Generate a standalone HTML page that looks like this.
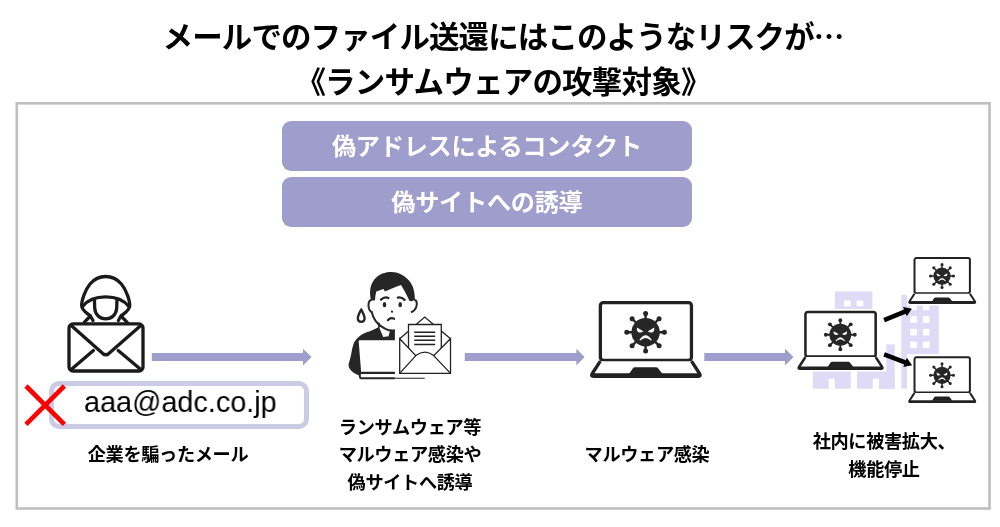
<!DOCTYPE html>
<html lang="ja"><head><meta charset="utf-8">
<style>
html,body{margin:0;padding:0;background:#fff;}
body{width:1000px;height:527px;position:relative;overflow:hidden;font-family:"Liberation Sans","Noto Sans CJK JP",sans-serif;color:#000;}
.abs{position:absolute;}
.t,.lbl,.pill,#addr{will-change:transform;}
.t{position:absolute;white-space:nowrap;font-weight:bold;text-align:center;}
.cjk{font-family:"Noto Sans CJK JP",sans-serif;}
#t1{left:0;width:1006px;top:12.5px;font-size:30.5px;line-height:44px;letter-spacing:-0.9px;}
#t2{left:0;width:1006px;top:59.5px;font-size:30.5px;line-height:44px;letter-spacing:-0.8px;}
#box{left:15.5px;top:102px;width:969.9px;height:402.4px;border:2.7px solid #bfbfbf;}
.pill{left:282px;width:409.8px;height:49.7px;border-radius:9px;background:#9e9dcc;color:#fff;font-weight:bold;font-size:24.2px;line-height:52px;text-align:center;letter-spacing:-0.3px;white-space:nowrap;}
.lbl{position:absolute;white-space:nowrap;font-weight:bold;text-align:center;font-size:18.2px;line-height:27.3px;letter-spacing:-0.35px;width:240px;margin-top:1.8px;}
#mail{left:49.2px;top:381.2px;width:249.6px;height:37.6px;border:5px solid #cbcbe5;border-radius:10px;background:#fff;}
#addr{left:83.5px;top:382.2px;font-size:29.5px;line-height:40px;white-space:nowrap;transform-origin:0 50%;transform:scaleX(0.977);letter-spacing:0;}
svg{position:absolute;left:0;top:0;}
</style></head><body>
<div class="t" id="t1">メールでのファイル送還にはこのようなリスクが<span class="cjk">…</span></div>
<div class="t" id="t2">《ランサムウェアの攻撃対象》</div>
<div class="abs pill" style="top:121px;">偽アドレスによるコンタクト</div>
<div class="abs pill" style="top:177px;">偽サイトへの誘導</div>
<div class="abs" id="mail"></div>
<div class="abs" id="addr">aaa@adc.co.jp</div>
<!--SVGSTART--><svg width="1000" height="527" viewBox="0 0 1000 527">
<defs>
  <g id="virus">
    <g stroke="#262626" stroke-width="2.4" stroke-linecap="round">
      <line x1="0" y1="-13" x2="0" y2="-18.6"/><line x1="0" y1="13" x2="0" y2="18.6"/>
      <line x1="-13" y1="0" x2="-18.6" y2="0"/><line x1="13" y1="0" x2="18.6" y2="0"/>
      <line x1="9.2" y1="9.2" x2="13.4" y2="13.4"/><line x1="-9.2" y1="9.2" x2="-13.4" y2="13.4"/>
      <line x1="9.2" y1="-9.2" x2="13.4" y2="-13.4"/><line x1="-9.2" y1="-9.2" x2="-13.4" y2="-13.4"/>
    </g>
    <g fill="#262626">
      <circle r="14.2"/>
      <circle cx="0" cy="-18.8" r="2.5"/><circle cx="0" cy="18.8" r="2.5"/>
      <circle cx="-18.8" cy="0" r="2.5"/><circle cx="18.8" cy="0" r="2.5"/>
      <circle cx="13.5" cy="13.5" r="2.5"/><circle cx="-13.5" cy="13.5" r="2.5"/>
      <circle cx="13.5" cy="-13.5" r="2.5"/><circle cx="-13.5" cy="-13.5" r="2.5"/>
    </g>
    <path d="M-8.7,-4.6 L-2.3,-1 Q-4.5,1.2 -7.6,-0.2 Q-9.2,-1.6 -8.7,-4.6Z" fill="#fff"/>
    <path d="M8.7,-4.6 L2.3,-1 Q4.5,1.2 7.6,-0.2 Q9.2,-1.6 8.7,-4.6Z" fill="#fff"/>
    <path d="M-6.3,7.8 Q0,-1.6 6.3,7.8 L5.3,8.4 Q0,3.2 -5.3,8.4Z" fill="#fff"/>
  </g>
  <g id="laptop">
    <rect x="10.55" y="1.65" width="91.1" height="57.7" rx="3" fill="#fff" stroke="#222" stroke-width="3.3"/>
    <path d="M10.5,60.2 L2.2,73 Q0.9,75.35 3.6,75.35 L108.6,75.35 Q111.3,75.35 110,73 L101.7,60.2" fill="#fff" stroke="#222" stroke-width="3.3" stroke-linejoin="round"/>
    <path d="M3,74 L109.2,74" stroke="#222" stroke-width="3.3"/>
    <path d="M45.2,66.3 L66.2,66.3 Q67.6,66.3 68.4,67.4 L72.8,73 L39.2,73 L43,67.4 Q43.8,66.3 45.2,66.3Z" fill="#222"/>
    <use href="#virus" x="55.8" y="31.2"/>
  </g>
</defs>

<rect x="16.8" y="103.3" width="972.7" height="405.2" fill="none" stroke="#bfbfbf" stroke-width="2.6"/>
<!-- purple arrows -->
<g fill="#9e9dcc">
  <path d="M151.8,353 H303 V348.7 L311.6,357 L303,365.4 V361 H151.8Z"/>
  <path d="M464.8,353 H576.4 V348.7 L584.6,357 L576.4,365.4 V361 H464.8Z"/>
  <path d="M704.3,353 H785 V348.7 L793.5,357 L785,365.4 V361 H704.3Z"/>
</g>

<!-- hacker + envelope -->
<g fill="none" stroke="#1a1a1a" stroke-width="3.3" stroke-linecap="round" stroke-linejoin="round">
  <path d="M84.2,322.3 L90.4,316 C87,313 82,310.8 81.7,306 C81.4,301 85,290 90,284 C94,279.3 99.5,276.5 105.7,276.5 C111.9,276.5 117.4,279.3 121.4,284 C126.4,290 130,301 129.7,306 C129.4,310.8 124.4,313 121,316 L127.2,322.3"/>
  <path d="M90.4,316 L93,320.5 M121,316 L118.4,320.5"/>
  <path d="M82.6,306.4 C88,299.4 96.5,296.8 105.7,296.8 C114.9,296.8 123.4,299.4 128.8,306.4"/>
  <path d="M94.4,298.8 L94.7,308 C95.1,314.8 99.8,318.8 105.7,318.8 C111.6,318.8 116.3,314.8 116.7,308 L117,298.8"/>
  <rect x="69" y="323.9" width="74" height="47.1" rx="4" fill="#fff"/>
  <path d="M71.2,325.6 L102.8,353.6 Q105.8,356 108.8,353.6 L140.8,325.6"/>
  <path d="M71.2,369.6 L93.4,350.6 M140.8,369.6 L118.2,350.6"/>
</g>

<!-- red X -->
<g stroke="#ff0000" stroke-width="4.6" fill="none">
  <path d="M26,386 L64.4,424.4 M64.4,386 L26,424.4"/>
</g>

<!-- person with laptop -->
<g>
  <!-- body -->
  <path d="M378.9,327 C374,329.8 370,331.3 366.6,332.3 C363.5,333.5 361,335 358.6,336.9 C356.3,339 355,341 353.9,342.9 C352.5,346.5 352,350 351.3,353.5 C350.5,357.5 349.5,361 348.6,364.1 C348.3,367 349.5,369 351.3,370.8 C353.5,372.8 356,374.3 359.3,375.4 L362,375.4 L362,341 L394.9,341 L394.9,327 Z" fill="#262626"/>
  <!-- neck+collar white -->
  <path d="M378.6,322 L379.2,327.6 L383.2,336.9 L388.5,336.2 L389.8,331.6 L392,329.5 L392,322Z" fill="#fff"/>
  <!-- laptop back -->
  <path d="M358.7,341.6 Q358.6,340.2 360,340.2 L394.9,340.2 L394.9,373 L361.2,373Z" fill="#fff"/>
  <path d="M361.2,373 L394.9,373" stroke="#262626" stroke-width="2.4" fill="none"/>
  <path d="M394.9,373 H361 Q359.8,373 359.8,375.6 Q359.8,378.2 361,378.2 H394.9" stroke="#262626" stroke-width="2" fill="#fff"/>
  <path d="M394.9,378.3 H424.7" stroke="#555" stroke-width="1.3" fill="none"/>
  <!-- face -->
  <path d="M371.6,311.5 C372.5,316 374,318.8 375.6,320.8 C377.5,323.3 379,324.8 380.9,326.1 C384,328.3 386,329.3 388.2,330 C390.5,330.6 393,330.6 395.5,330.2 L395.5,300 L372,300Z" fill="#fff"/>
  <path d="M371.6,311.5 C372.5,316 374,318.8 375.6,320.8 C377.5,323.3 379,324.8 380.9,326.1 C384,328.3 386,329.3 388.2,330 C390.5,330.6 393,330.6 395.5,330.2" fill="none" stroke="#262626" stroke-width="2"/>
  <path d="M378.6,322.5 L379.1,327.6" stroke="#262626" stroke-width="1.8" fill="none"/>
  <!-- hair -->
  <path d="M371,300.4 C370,296 369.8,292 370.3,288.9 C371,285 372.5,282 374.3,279.6 C376.5,277 379,275 382.3,273.6 C385.5,272.3 388.5,271.9 391.6,271.9 C395.5,271.9 399,273 402.2,275 C406,277.3 409,280 410.8,282.9 C412.8,286 413.7,289 414.1,291.6 C414.7,295 414.9,297.5 414.8,299.8 L411.8,301.2 L409.5,300.9 C408,297.5 406.3,294.5 404.8,291.6 C403.5,289 402.3,287 400.9,284.9 L395.5,286.9 L384.9,291.6 L383.6,288.9 L376.3,291.6 C375.5,294.5 375.1,297.5 375,300.4 Z" fill="#262626"/>
  <!-- ears -->
  <path d="M371.6,299.8 C367.4,300.6 367.4,310 372,312.2" fill="none" stroke="#262626" stroke-width="2"/>
  <path d="M414.3,299.8 C418,300.6 418,309.5 411,312.3" fill="none" stroke="#262626" stroke-width="2"/>
  <!-- eyes, brows, nose, mouth -->
  <ellipse cx="384.5" cy="304.7" rx="1.8" ry="2.6" fill="#262626"/>
  <ellipse cx="400.2" cy="304.7" rx="1.8" ry="2.6" fill="#262626"/>
  <path d="M381,299.6 Q384.5,296.2 388.4,298" fill="none" stroke="#262626" stroke-width="2.3" stroke-linecap="round"/>
  <path d="M397.8,297.6 Q401.5,296.8 404.6,299.9" fill="none" stroke="#262626" stroke-width="2.3" stroke-linecap="round"/>
  <circle cx="392" cy="311.7" r="1.1" fill="#262626"/>
  <path d="M387.8,320.2 Q390.6,317 394.6,318.9" fill="none" stroke="#262626" stroke-width="2.1" stroke-linecap="round"/>
  <!-- sweat -->
  <path d="M361.2,309.4 C363.2,313.5 364.6,315.8 364.6,318.2 C364.6,320.4 363.1,321.8 361.2,321.8 C359.3,321.8 357.8,320.4 357.8,318.2 C357.8,315.8 359.2,313.5 361.2,309.4Z" fill="#fff" stroke="#262626" stroke-width="2.3" stroke-linejoin="round"/>
</g>
<!-- open envelope -->
<rect x="395" y="316" width="58" height="60.5" fill="#fff"/>
<g fill="none" stroke="#222" stroke-width="1.3" stroke-linejoin="miter">
  <path d="M399.7,338.7 L424.7,317 L450.5,338.7"/>
  <path d="M408.5,356 L408.5,324.5 L441.3,324.5 L441.3,356" fill="#fff"/>
  <path d="M414.2,332.3 H435.2 M414.2,336.3 H435.2 M414.2,340.3 H435.2 M414.2,344.4 H435.2" stroke-width="1.5"/>
  <path d="M399.7,338.7 L415.8,355.6 Q424.9,348.6 433.7,355.6 L450.5,338.7 L450.5,373.4 L399.7,373.4Z" fill="#fff"/>
  <path d="M415.8,355.6 L399.7,373.4 M433.7,355.6 L450.5,373.4"/>
</g>

<!-- building -->
<g fill="#dfdbf6">
  <rect x="834.8" y="291.4" width="37.6" height="30"/>
  <rect x="812.9" y="371" width="37.8" height="17.7"/>
  <rect x="856.9" y="371" width="37.8" height="17.7"/>
  <rect x="878.9" y="344.4" width="15.8" height="44.3"/>
  <rect x="901.3" y="294.8" width="5.7" height="93.9"/>
  <rect x="906.5" y="296" width="32.3" height="58.3"/>
</g>
<g fill="#fff">
  <rect x="844" y="300.5" width="6.8" height="5.8"/><rect x="856.5" y="300.5" width="6.8" height="5.8"/>
  <rect x="828.7" y="378.7" width="6.2" height="10.2"/><rect x="872.7" y="378.7" width="6.2" height="10.2"/>
  <rect x="910.3" y="303.6" width="6.6" height="6.6"/><rect x="922.9" y="303.6" width="6.5" height="6.6"/>
  <rect x="910.3" y="316.2" width="6.6" height="6.6"/><rect x="922.9" y="316.2" width="6.5" height="6.6"/>
  <rect x="910.3" y="328.9" width="6.6" height="6.6"/><rect x="922.9" y="328.9" width="6.5" height="6.6"/>
  <rect x="910.3" y="341.5" width="6.6" height="6.6"/><rect x="922.9" y="341.5" width="6.5" height="6.6"/>
  <rect x="794" y="309" width="92.3" height="62.6"/>
</g>
<!-- white bg of small laptop images -->
<rect x="907" y="254" width="72" height="51.5" fill="#fff"/>
<rect x="907" y="354.2" width="72" height="50" fill="#fff"/>

<!-- laptops -->
<use href="#laptop" transform="translate(589.8,301)"/>
<use href="#laptop" transform="translate(797.3,310.7) scale(0.771)"/>
<use href="#laptop" transform="translate(908.1,257.1) scale(0.608)"/>
<use href="#laptop" transform="translate(908.1,356.3) scale(0.608)"/>

<!-- black arrows -->
<g fill="#000">
  <path id="barrow" d="M0,-2.3 L22.5,-2.3 L22.5,-5 L30,0 L22.5,5 L22.5,2.3 L0,2.3Z" transform="translate(884.1,320.1) rotate(-22.3)"/>
  <path d="M0,-2.3 L22.5,-2.3 L22.5,-5 L30,0 L22.5,5 L22.5,2.3 L0,2.3Z" transform="translate(884.1,354.3) rotate(21.2)"/>
</g>
</svg>

<!--SVGEND-->
<div class="lbl" style="left:48px;top:440.5px;">企業を騙ったメール</div>
<div class="lbl" style="left:289.5px;top:413.5px;">ランサムウェア等<br>マルウェア感染や<br>偽サイトへ誘導</div>
<div class="lbl" style="left:526.5px;top:440.5px;">マルウェア感染</div>
<div class="lbl" style="left:763.5px;top:426px;line-height:28px;">社内に被害拡大、<br>機能停止</div>
</body></html>
